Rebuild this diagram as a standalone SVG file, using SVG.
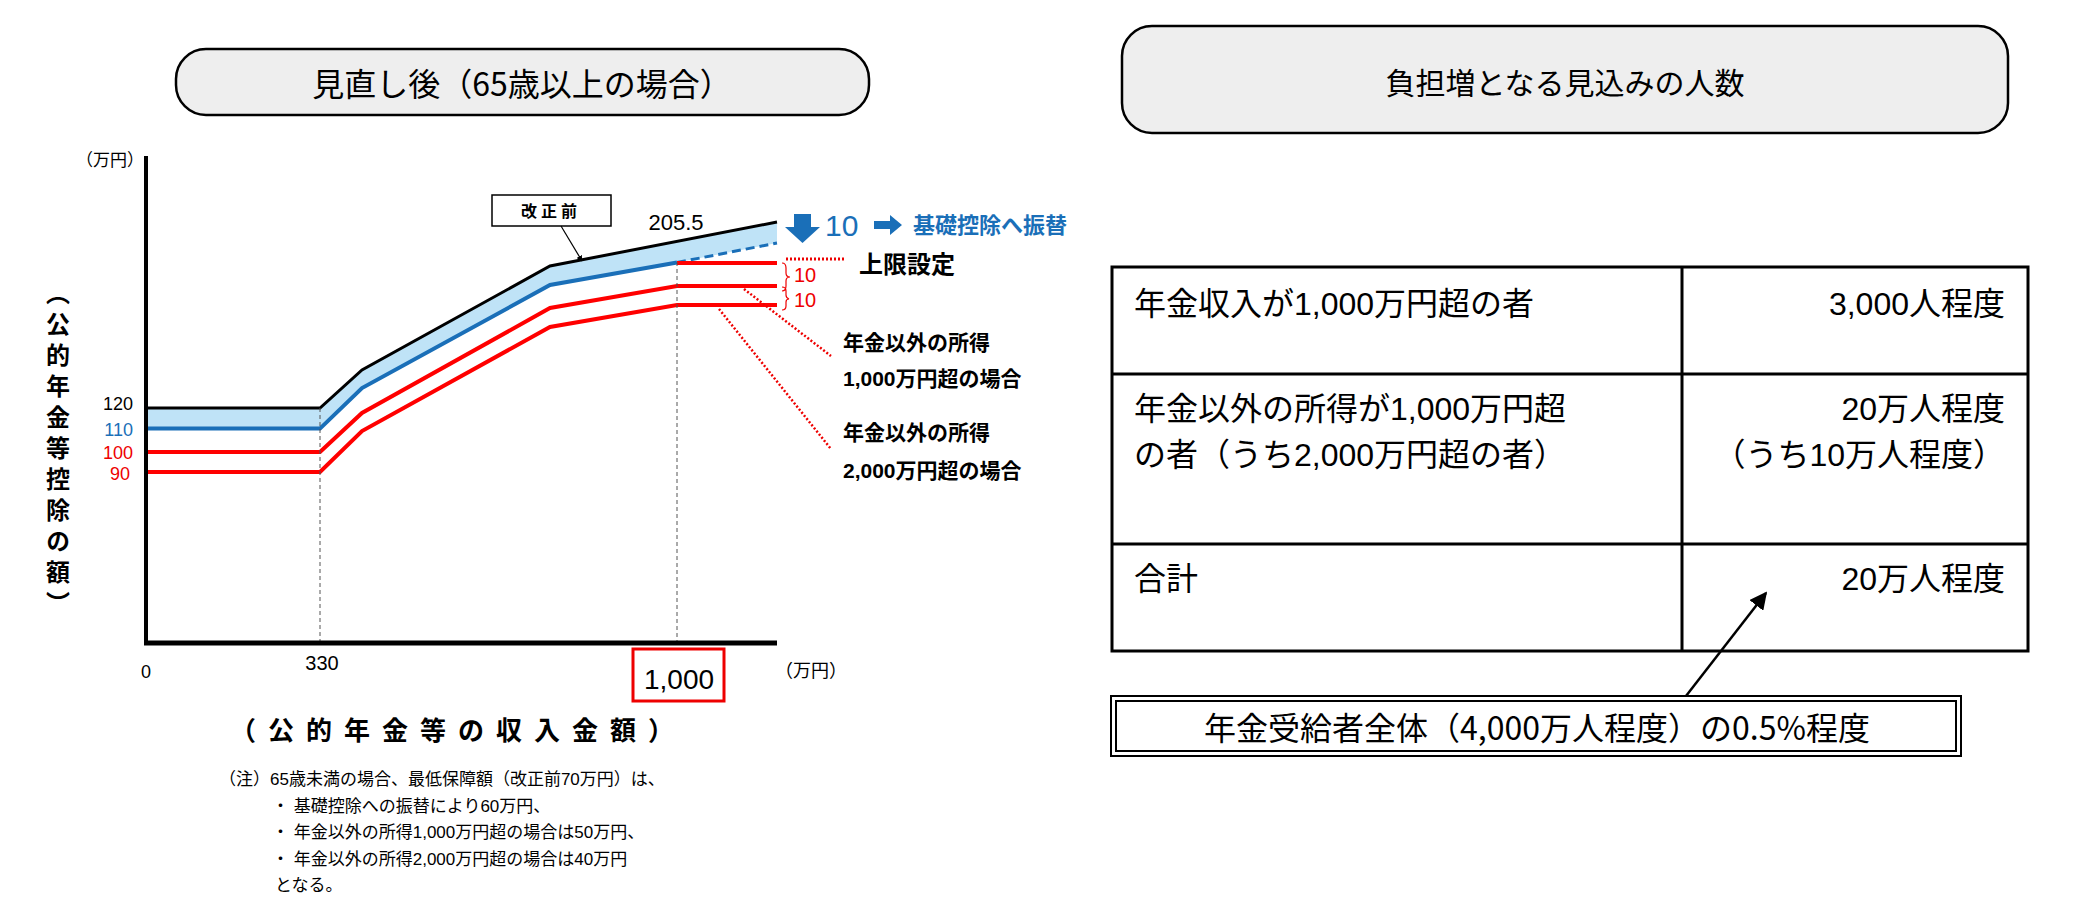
<svg xmlns="http://www.w3.org/2000/svg" width="2073" height="914" viewBox="0 0 2073 914">
<defs>
<style>
text{font-family:"Liberation Sans","Noto Sans CJK JP",sans-serif;fill:#000}
.jp{font-family:"Noto Sans CJK JP",sans-serif}
.bd{font-weight:bold}
.num{font-family:"Liberation Sans Narrow","Liberation Sans",sans-serif}
.red{fill:#e00}
.blue{fill:#1a6fb8}
.ttl{fill:#eeeeee;stroke:#000;stroke-width:2.5}
.cell{fill:none;stroke:#000;stroke-width:3}
</style>
<marker id="ah" viewBox="0 0 10 10" refX="9" refY="5" markerWidth="7" markerHeight="7" orient="auto"><path d="M0,0L10,5L0,10z" fill="#000"/></marker>
<marker id="ah2" viewBox="0 0 10 10" refX="9" refY="5" markerWidth="5" markerHeight="5" orient="auto"><path d="M0,0L10,5L0,10z" fill="#000"/></marker>
</defs>
<rect width="2073" height="914" fill="#fff"/>

<g id="left-title">
<rect class="ttl" x="176" y="49" width="693" height="66" rx="30"/>
<text class="jp" x="522" y="96" font-size="32" text-anchor="middle">見直し後（65歳以上の場合）</text>
</g>

<g id="chart">
<polygon points="146,408 320,408 362,370 550,266 777,222 777,243 677,262.5 550,285 362,388 320,428.6 146,428.6" fill="#bfe3f7"/>
<g fill="none" stroke-width="4">
<polyline points="146,408 320,408 362,370 550,266 777,222" stroke="#000" stroke-width="3"/>
<polyline points="146,428.6 320,428.6 362,388 550,285 677,262.5" stroke="#1a6fb8"/>
<line x1="677" y1="262.5" x2="777" y2="243" stroke="#1a6fb8" stroke-dasharray="9,5" stroke-width="3"/>
<polyline points="146,452 320,452 362,413 550,308 677,286 777,286" stroke="#f00"/>
<polyline points="146,472 320,472 362,431 550,327 677,305 777,305" stroke="#f00"/>
<line x1="677" y1="263" x2="777" y2="263" stroke="#f00"/>
</g>
<line x1="320" y1="408" x2="320" y2="643" stroke="#555" stroke-dasharray="4,3"/>
<line x1="677" y1="262" x2="677" y2="643" stroke="#555" stroke-dasharray="4,3"/>
<line x1="146" y1="156" x2="146" y2="645" stroke="#000" stroke-width="4"/>
<line x1="144" y1="643" x2="777" y2="643" stroke="#000" stroke-width="5"/>
<text x="76" y="166" font-size="17" class="jp">（万円）</text>
<text class="num" x="133" y="410" font-size="18" text-anchor="end">120</text>
<text class="num blue" x="133" y="436" font-size="18" text-anchor="end">110</text>
<text class="num red" x="133" y="459" font-size="18" text-anchor="end">100</text>
<text class="num red" x="130" y="480" font-size="18" text-anchor="end">90</text>
<text class="jp bd" x="58" y="281" font-size="24" writing-mode="tb" letter-spacing="7">（公的年金等控除の額）</text>
<text class="num" x="146" y="678" font-size="18" text-anchor="middle">0</text>
<text class="num" x="322" y="670" font-size="20" text-anchor="middle">330</text>
<rect x="633" y="649" width="91" height="52" fill="none" stroke="#e00" stroke-width="3"/>
<text class="num" x="679" y="689" font-size="28" text-anchor="middle">1,000</text>
<text class="jp" x="811" y="677" font-size="18" text-anchor="middle">（万円）</text>
<text class="jp bd" x="458" y="740" font-size="26" text-anchor="middle" letter-spacing="12">（公的年金等の収入金額）</text>
<g class="jp" font-size="17">
<text x="219" y="785">（注）65歳未満の場合、最低保障額（改正前70万円）は、</text>
<text x="272" y="812">・ 基礎控除への振替により60万円、</text>
<text x="272" y="838">・ 年金以外の所得1,000万円超の場合は50万円、</text>
<text x="272" y="865">・ 年金以外の所得2,000万円超の場合は40万円</text>
<text x="275" y="891">となる。</text>
</g>
</g>

<g id="kaiseimae">
<rect x="492" y="195" width="119" height="31" fill="#fff" stroke="#000" stroke-width="1.5"/>
<text class="jp bd" x="551" y="217" font-size="16" text-anchor="middle" letter-spacing="4">改正前</text>
</g>
<g id="labels">
<text class="num" x="676" y="230" font-size="22" text-anchor="middle">205.5</text>
<path d="M794,214h17v13h9l-17.5,16l-17.5,-16h9z" fill="#1a6fb8"/>
<text class="num blue" x="825" y="236" font-size="30">10</text>
<path d="M874,221h16v-6l12,10l-12,10v-6h-16z" fill="#1a6fb8"/>
<text class="jp bd blue" x="913" y="233" font-size="22">基礎控除へ振替</text>
<line x1="786" y1="259" x2="846" y2="259" stroke="#e00" stroke-width="3" stroke-dasharray="2,2"/>
<text class="jp bd" x="859" y="273" font-size="24">上限設定</text>
<path d="M782,263q4,0 4,5v5q0,4 4,4q-4,0 -4,4v5q0,5 -4,5M782,287q4,0 4,4v4q0,3 3,4q-3,0 -3,3v4q0,4 -4,4" fill="none" stroke="#e00" stroke-width="1.2"/>
<text class="num red" x="794" y="282" font-size="20">10</text>
<text class="num red" x="794" y="307" font-size="20">10</text>
<line x1="744" y1="289" x2="831" y2="356" stroke="#e00" stroke-width="2.5" stroke-dasharray="2,2"/>
<line x1="719" y1="309" x2="831" y2="449" stroke="#e00" stroke-width="2.5" stroke-dasharray="2,2"/>
<g class="jp bd" font-size="21">
<text x="843" y="350">年金以外の所得</text>
<text x="843" y="386">1,000万円超の場合</text>
<text x="843" y="440">年金以外の所得</text>
<text x="843" y="478">2,000万円超の場合</text>
</g>
</g>

<g id="right-title">
<rect class="ttl" x="1122" y="26" width="886" height="107" rx="30"/>
<text class="jp" x="1565" y="94" font-size="30" text-anchor="middle">負担増となる見込みの人数</text>
</g>

<g id="table">
<rect class="cell" x="1112" y="267" width="916" height="384"/>
<line class="cell" x1="1682" y1="267" x2="1682" y2="651"/>
<line class="cell" x1="1112" y1="374" x2="2028" y2="374"/>
<line class="cell" x1="1112" y1="544" x2="2028" y2="544"/>
<g class="jp" font-size="32">
<text x="1134" y="315">年金収入が1,000万円超の者</text>
<text x="1134" y="420">年金以外の所得が1,000万円超</text>
<text x="1134" y="466">の者（うち2,000万円超の者）</text>
<text x="1134" y="590">合計</text>
<g text-anchor="end">
<text x="2005" y="315">3,000人程度</text>
<text x="2005" y="420">20万人程度</text>
<text x="2005" y="466">（うち10万人程度）</text>
<text x="2005" y="590">20万人程度</text>
</g>
</g>
</g>

<g id="callout">
<rect x="1111" y="696" width="850" height="60" fill="#fff" stroke="#000" stroke-width="2"/>
<rect x="1116" y="701" width="840" height="50" fill="none" stroke="#000" stroke-width="2"/>
<text class="jp" x="1537" y="740" font-size="32" text-anchor="middle">年金受給者全体（4,000万人程度）の0.5%程度</text>
</g>

<g id="connectors">
<line x1="561" y1="226" x2="582" y2="261" stroke="#000" stroke-width="1.2" marker-end="url(#ah2)"/>
<line x1="1686" y1="696" x2="1766" y2="593" stroke="#000" stroke-width="2.5" marker-end="url(#ah)"/>
</g>
</svg>
